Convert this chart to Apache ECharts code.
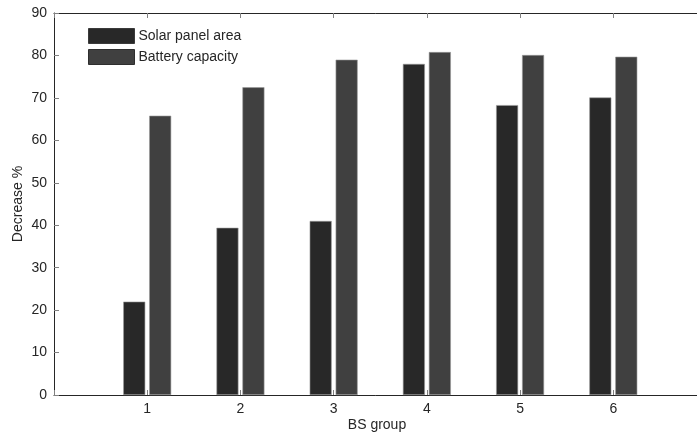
<!DOCTYPE html>
<html><head><meta charset="utf-8">
<script src="https://cdn.jsdelivr.net/npm/echarts@6/dist/echarts.min.js"></script>
<style>html,body{margin:0;padding:0;background:#fff}#c{width:697px;height:436px}</style>
</head><body><div id="c"></div>
<script>
var groups = [1, 2, 3, 4, 5, 6];
var solarPanelArea = [22, 39.4, 41, 78, 68.3, 70.1];
var batteryCapacity = [65.8, 72.5, 79, 80.8, 80.1, 79.7];
var seriesNames = ['Solar panel area', 'Battery capacity'];
var yTicks = [0, 10, 20, 30, 40, 50, 60, 70, 80, 90];

var font = 'Liberation Sans, Arial, sans-serif';
var chart = echarts.init(document.getElementById('c'), null, {renderer: 'canvas'});
function pairs(v){ return groups.map(function(g, i){ return [g, v[i]]; }); }
chart.setOption({
  animation: false,
  backgroundColor: '#fff',
  grid: {left: 54, right: -3, top: 13, bottom: 41, containLabel: false, outerBoundsMode: 'none'},
  legend: {
    left: 83, top: 23, orient: 'vertical', itemWidth: 46, itemHeight: 15, itemGap: 5,
    icon: 'rect',
    textStyle: {fontFamily: font, fontSize: 14, color: '#262626', padding: [0,0,0,-1]},
    data: [
      {name: seriesNames[0], itemStyle: {borderColor: '#3a3a3a', borderWidth: 1}},
      {name: seriesNames[1], itemStyle: {borderColor: '#2e2e2e', borderWidth: 1}}
    ]
  },
  xAxis: [{
    type: 'value', min: 0, max: 6.93, interval: 1,
    name: 'BS group', nameLocation: 'middle', nameGap: 23, nameMoveOverlap: false,
    nameTextStyle: {fontFamily: font, fontSize: 14, color: '#262626'},
    axisLine: {lineStyle: {color: '#262626', width: 1}},
    axisTick: {inside: true, length: 5, lineStyle: {color: '#808080'}},
    axisLabel: {fontFamily: font, fontSize: 14, color: '#262626', margin: 7,
      formatter: function(v){ return groups.indexOf(v) >= 0 ? String(v) : ''; }},
    splitLine: {show: false}
  }, {
    type: 'value', min: 0, max: 6.93, interval: 1, position: 'top',
    axisLine: {show: true, lineStyle: {color: '#262626', width: 1}},
    axisTick: {show: true, inside: true, length: 5, lineStyle: {color: '#808080'}},
    axisLabel: {show: false}, splitLine: {show: false}
  }],
  yAxis: {
    type: 'value', min: yTicks[0], max: yTicks[yTicks.length-1], interval: 10,
    name: 'Decrease %', nameLocation: 'middle', nameGap: 36, nameRotate: 90, nameMoveOverlap: false,
    nameTextStyle: {fontFamily: font, fontSize: 14, color: '#262626', verticalAlign: 'middle'},
    axisLine: {show: true, lineStyle: {color: '#262626', width: 1}},
    axisTick: {show: true, inside: true, length: 5, lineStyle: {color: '#808080'}},
    axisLabel: {fontFamily: font, fontSize: 14, color: '#262626', margin: 7},
    splitLine: {show: false}
  },
  series: [{
    name: seriesNames[0], type: 'bar', data: pairs(solarPanelArea),
    barWidth: 22, barGap: '18%',
    itemStyle: {color: '#282828', borderColor: '#9a9a9a', borderWidth: 0.6}
  }, {
    name: seriesNames[1], type: 'bar', data: pairs(batteryCapacity),
    barWidth: 22, barGap: '18%',
    itemStyle: {color: '#404040', borderColor: '#9a9a9a', borderWidth: 0.6}
  }]
});
</script></body></html>
